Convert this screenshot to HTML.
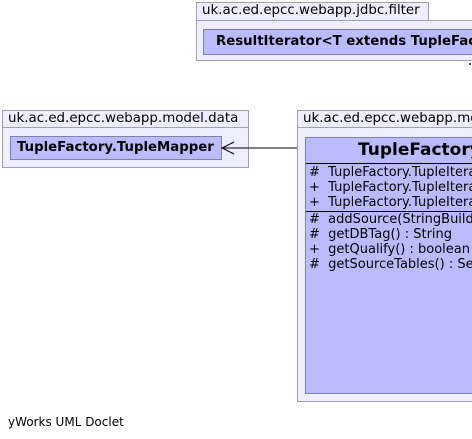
<!DOCTYPE html>
<html><head><style>
body{margin:0;width:472px;height:439px;background:#fff;position:relative;overflow:hidden;font-family:"DejaVu Sans","Liberation Sans",sans-serif;}
.a{position:absolute;box-sizing:border-box;}
.tab{background:#eeeeff;border:1px solid #a0a0b0;font-size:13.4px;color:#000;padding-left:5px;line-height:16px;white-space:nowrap;overflow:hidden;}
.pk{background:#eeeeff;border:1px solid #a0a0b0;}
.cl{background:#bbbbff;border:1px solid #8080a8;white-space:nowrap;overflow:hidden;}
.t{font-size:13px;line-height:15px;padding-left:3px;white-space:nowrap;}
</style></head><body>
<div class="a tab" style="left:196px;top:2px;width:233px;height:19px;">uk.ac.ed.epcc.webapp.jdbc.filter</div>
<div class="a pk" style="left:196px;top:20px;width:280px;height:41px;"></div>
<div class="a cl" style="left:203px;top:29px;width:280px;height:26px;font-weight:bold;font-size:13.3px;line-height:24px;padding-left:12px;">ResultIterator&lt;T extends TupleFactory</div>
<div class="a" style="left:469px;top:63px;width:2px;height:2px;background:#444;"></div>

<div class="a tab" style="left:2px;top:110px;width:247px;height:18px;">uk.ac.ed.epcc.webapp.model.data</div>
<div class="a pk" style="left:2px;top:127px;width:247px;height:41px;"></div>
<div class="a cl" style="left:10px;top:136px;width:212px;height:24px;font-weight:bold;font-size:13.3px;line-height:22px;padding-left:6px;">TupleFactory.TupleMapper</div>

<svg class="a" style="left:0;top:0" width="472" height="439">
<line x1="222" y1="148" x2="305" y2="148" stroke="#000" stroke-width="1"/>
<polyline points="234,142 222,148 234,154" fill="none" stroke="#000" stroke-width="1"/>
</svg>

<div class="a tab" style="left:297px;top:110px;width:180px;height:18px;">uk.ac.ed.epcc.webapp.model.data</div>
<div class="a pk" style="left:297px;top:127px;width:180px;height:275px;"></div>
<div class="a cl" style="left:305px;top:137px;width:180px;height:257px;">
<div style="font-weight:bold;font-size:17px;height:25px;line-height:25px;padding-left:52px;">TupleFactory</div>
<div style="border-top:1px solid #000;padding-top:1px;height:46px;">
<div class="t"># &nbsp;TupleFactory.TupleIterator</div>
<div class="t">+ &nbsp;TupleFactory.TupleIterator</div>
<div class="t">+ &nbsp;TupleFactory.TupleIterator</div>
</div>
<div style="border-top:1px solid #000;">
<div class="t"># &nbsp;addSource(StringBuilder</div>
<div class="t"># &nbsp;getDBTag() : String</div>
<div class="t">+ &nbsp;getQualify() : boolean</div>
<div class="t"># &nbsp;getSourceTables() : Set</div>
</div>
</div>

<div class="a" style="left:8px;top:415px;font-size:12px;">yWorks UML Doclet</div>
</body></html>
